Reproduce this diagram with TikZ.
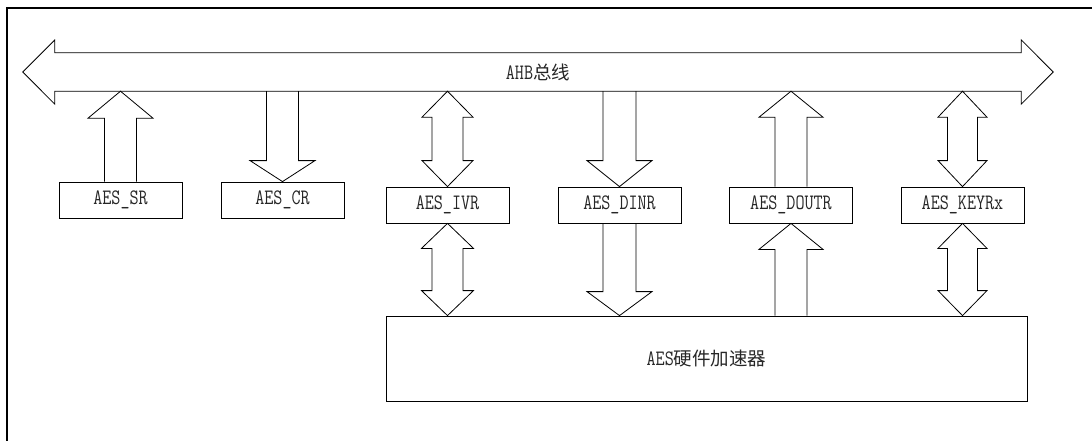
\documentclass[tikz,border=0pt]{standalone}
\usepackage{fontspec}
\usetikzlibrary{calc}
\newfontfamily\latf[FakeStretch=0.8]{Latin Modern Mono}
\newfontfamily\cjkf{Noto Sans CJK SC}
\newcommand\lt[1]{{\latf\fontsize{22}{22}\selectfont #1}}
\newcommand\zh[1]{{\cjkf\fontsize{18.5}{18.5}\selectfont #1}}
% block arrows: #1 base coord, #2 tip coord, #3 shaft half width, #4 wing half width, #5 head length
\newcommand\uparrowblk[5]{\draw[blk] let \p1=#1, \p2=#2 in
  (\x1-#3pt,\y1) -- (\x1-#3pt,\y2-#5pt) -- (\x1-#4pt,\y2-#5pt) -- (\x1,\y2)
  -- (\x1+#4pt,\y2-#5pt) -- (\x1+#3pt,\y2-#5pt) -- (\x1+#3pt,\y1);}
\newcommand\downarrowblk[5]{\draw[blk] let \p1=#1, \p2=#2 in
  (\x1-#3pt,\y1) -- (\x1-#3pt,\y2+#5pt) -- (\x1-#4pt,\y2+#5pt) -- (\x1,\y2)
  -- (\x1+#4pt,\y2+#5pt) -- (\x1+#3pt,\y2+#5pt) -- (\x1+#3pt,\y1);}
% double: #1 bottom tip, #2 top tip
\newcommand\dblarrowblk[5]{\draw[blk] let \p1=#1, \p2=#2 in
  (\x1,\y2) -- (\x1+#4pt,\y2-#5pt) -- (\x1+#3pt,\y2-#5pt) -- (\x1+#3pt,\y1+#5pt)
  -- (\x1+#4pt,\y1+#5pt) -- (\x1,\y1) -- (\x1-#4pt,\y1+#5pt) -- (\x1-#3pt,\y1+#5pt)
  -- (\x1-#3pt,\y2-#5pt) -- (\x1-#4pt,\y2-#5pt) -- cycle;}
\tikzset{
  blk/.style={draw=black, line width=0.8pt, line join=miter},
  regbox/.style={draw=black, line width=0.8pt, minimum width=123pt, minimum height=36pt, inner sep=0pt, text=black!85},
}
\begin{document}
\begin{tikzpicture}[x=1pt,y=-1pt]
\useasboundingbox (0,0) rectangle (1092,441);
% outer frame
\draw[line width=1.6pt] (7,445) -- (7,8) -- (1096,8);
% bus
\node[inner sep=0pt, minimum width=966pt, minimum height=38pt, text=black!85] (bus) at (538,72) {\lt{AHB}\zh{总线}};
\draw[blk] (bus.west) ++(-32,0) -- ++(32,-32) -- (bus.north west) -- (bus.north east) -- ++(0,-13) -- ($(bus.east)+(32,0)$)
  -- ($(bus.south east)+(0,13)$) -- (bus.south east) -- (bus.south west) -- ++(0,13) -- cycle;
% registers
\node[regbox] (sr) at (120.5,200) {\lt{AES\_SR}};
\node[regbox] (cr) at (282.5,200) {\lt{AES\_CR}};
\node[regbox] (ivr) at (447.5,205) {\lt{AES\_IVR}};
\node[regbox] (dinr) at (619.5,205) {\lt{AES\_DINR}};
\node[regbox] (doutr) at (791,205) {\lt{AES\_DOUTR}};
\node[regbox] (keyr) at (962.5,205) {\lt{AES\_KEYRx}};
% accelerator
\node[draw=black, line width=0.8pt, minimum width=641pt, minimum height=85pt, inner sep=0pt, text=black!85] (acc) at (706.5,358.5) {\lt{AES}\zh{硬件加速器}};
% arrows to bus
\uparrowblk{(sr.north)}{(sr.north |- bus.south)}{16}{32.5}{27}
\downarrowblk{(cr.north |- bus.south)}{(cr.north)}{16}{32.5}{21}
\dblarrowblk{(ivr.north)}{(ivr.north |- bus.south)}{15.5}{25.5}{26}
\downarrowblk{(dinr.north |- bus.south)}{(dinr.north)}{16.5}{32.5}{26}
\uparrowblk{(doutr.north)}{(doutr.north |- bus.south)}{16}{32}{26}
\dblarrowblk{(keyr.north)}{(keyr.north |- bus.south)}{15}{24.5}{26}
% arrows to accelerator
\dblarrowblk{(ivr.south |- acc.north)}{(ivr.south)}{15.5}{26}{25}
\downarrowblk{(dinr.south)}{(dinr.south |- acc.north)}{16.5}{32.5}{24}
\uparrowblk{(doutr.south |- acc.north)}{(doutr.south)}{16}{32}{26}
\dblarrowblk{(keyr.south |- acc.north)}{(keyr.south)}{15}{24.5}{25}
\end{tikzpicture}
\end{document}
